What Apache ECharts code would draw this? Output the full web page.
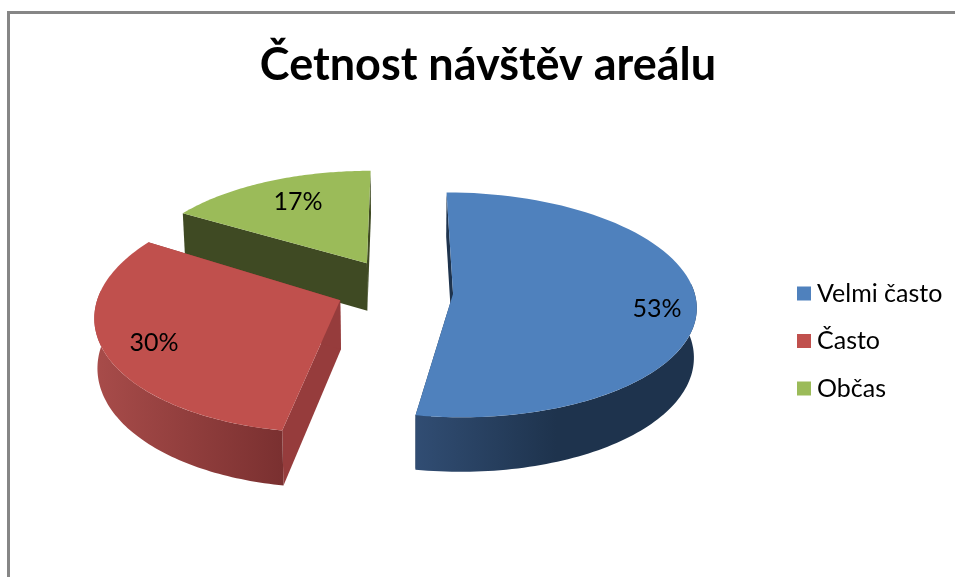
<!DOCTYPE html>
<html><head><meta charset="utf-8">
<style>html,body{margin:0;padding:0;background:#fff}#c{width:955px;height:577px}</style>
<script src="https://cdn.jsdelivr.net/npm/echarts@6/dist/echarts.min.js"></script>
</head><body><div id="c"></div>
<script>
const chartTitle = 'Četnost návštěv areálu';
const categories = ['Velmi často', 'Často', 'Občas'];
const values = [53, 30, 17];
const faceColors = ['#4f81bd', '#c0504d', '#9bbb59'];
const sideLight = ['#314d73', '#a84c4a', '#3f4a23'];
const sideDark = ['#1e334d', '#7a3030', '#3f4a23'];
const edgeColors = ['#1e334d', '#963c3c', '#3f4a23'];
const sliceLayout = [
  {ox: 0.18, oy: 0.03, rx: 1.01, ry: 1, shear: -0.012, labelR: 0.84, labelTurn: 4.5, z: 3},
  {ox: -0.29, oy: -0.03, rx: 1.01, ry: 1.05, shear: 0.015, labelR: 0.8, labelTurn: -1, z: 2},
  {ox: -0.185, oy: 0.31, rx: 0.98, ry: 0.96, shear: 0, labelR: 0.72, labelTurn: 2, z: 1}
];
const view = {vx: 410, y0: 297, K: 240, Ky: 112, d: 10, depth: 49, lean: 0.01, warp: 0.05};

const total = values.reduce((a, b) => a + b, 0);
const project = (X, Y) => {
  const s = view.d / (view.d + Y);
  return [view.vx + X * view.K * s, view.y0 + (s - 1) * view.d * view.Ky];
};
const drop = p => [p[0] + (view.vx - p[0]) * view.lean,
                   p[1] + view.depth * (1 + (p[1] - view.y0) / 1077)];
const startAngle = i => values.slice(0, i).reduce((a, b) => a + b, 0) / total * 2 * Math.PI;
const warp = t => t - view.warp * Math.sin(2 * t);

function sliceItem(i) {
  const L = sliceLayout[i], a0 = warp(startAngle(i)), a1 = warp(startAngle(i) + values[i] / total * 2 * Math.PI);
  const at = (t, r) => project(L.ox + r * (L.rx * Math.sin(t) + L.shear * Math.cos(t)), L.oy + r * L.ry * Math.cos(t));
  const apex = at(0, 0), arc = [];
  const steps = 80;
  for (let k = 0; k <= steps; k++) arc.push(at(a0 + (a1 - a0) * k / steps, 1));
  const wallFrom = Math.max(a0, 85 * Math.PI / 180), wallTo = Math.min(a1, 275 * Math.PI / 180);
  const wall = [];
  if (wallTo > wallFrom) {
    for (let k = 0; k <= steps; k++) wall.push(at(wallFrom + (wallTo - wallFrom) * k / steps, 1));
  }
  const wallShape = wall.concat(wall.map(drop).reverse());
  const first = arc[0], last = arc[steps];
  const poly = (points, fill) => ({type: 'polygon', shape: {points}, style: {fill}});
  const children = [
    poly([first, apex, drop(apex), drop(first)], edgeColors[i]),
    poly([last, apex, drop(apex), drop(last)], edgeColors[i])
  ];
  if (wall.length) {
    const g = i === 0
      ? new echarts.graphic.LinearGradient(0, 0, 1, 0, [{offset: 0, color: sideLight[i]}, {offset: 0.5, color: sideDark[i]}, {offset: 1, color: sideDark[i]}])
      : new echarts.graphic.LinearGradient(0, 0, 1, 0, [{offset: 0, color: sideLight[i]}, {offset: 1, color: sideDark[i]}]);
    children.push(poly(wallShape, g));
  }
  children.push(poly([apex].concat(arc), faceColors[i]));
  const mid = (a0 + a1) / 2 + L.labelTurn * Math.PI / 180, lp = at(mid, L.labelR);
  children.push({type: 'text', style: {
    text: Math.round(values[i] / total * 100) + '%', x: lp[0], y: lp[1],
    align: 'center', verticalAlign: 'middle', fill: '#000',
    font: '25px Lato, sans-serif'
  }});
  return {type: 'group', children};
}

const chart = echarts.init(document.getElementById('c'), null, {renderer: 'canvas'});
chart.setOption({
  animation: false,
  backgroundColor: '#fff',
  title: {text: chartTitle, left: 483, top: 38, textAlign: 'center',
    textStyle: {fontFamily: 'Lato', fontWeight: 'bold', fontSize: 45, color: '#000'}},
  legend: {orient: 'vertical', left: 792, top: 276, itemWidth: 14, itemHeight: 14, itemGap: 22.5, icon: 'rect',
    data: categories,
    textStyle: {fontFamily: 'Lato', fontSize: 25, color: '#000', padding: [0, 0, 0, 1]}},
  graphic: [
    {type: 'rect', shape: {x: 7, y: 11, width: 948, height: 3}, style: {fill: '#868686'}},
    {type: 'rect', shape: {x: 7, y: 11, width: 3, height: 566}, style: {fill: '#868686'}}
  ],
  series: categories.map((name, i) => ({
    type: 'custom', name, coordinateSystem: 'none', z: sliceLayout[i].z,
    itemStyle: {color: faceColors[i]},
    data: [values[i]],
    renderItem: () => sliceItem(i)
  }))
});
</script></body></html>
